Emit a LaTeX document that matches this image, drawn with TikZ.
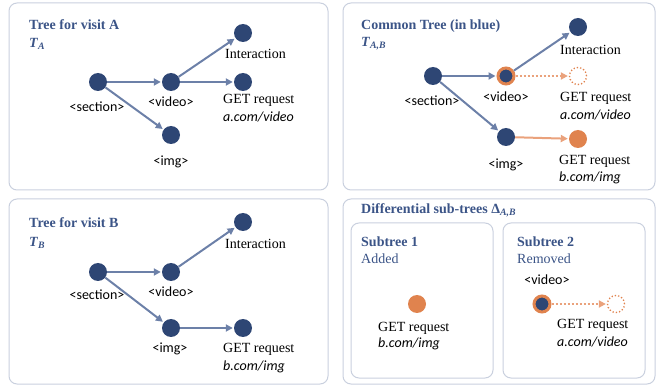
\documentclass[tikz,border=0pt]{standalone}
\usepackage{fontspec}
\setmainfont{Liberation Serif}
\newfontfamily\carl{Carlito}
\usetikzlibrary{arrows.meta}
\definecolor{navy}{HTML}{2E4674}
\definecolor{edgeblue}{HTML}{6C80A8}
\definecolor{orng}{HTML}{E0834E}
\definecolor{lorng}{HTML}{EAA27C}
\definecolor{ttl}{HTML}{3B5487}
\definecolor{frame}{HTML}{C9D0DE}
\tikzset{
  dot/.style={circle, fill=navy, minimum size=18pt, inner sep=0pt},
  odot/.style={circle, fill=orng, minimum size=18pt, inner sep=0pt},
  ringdot/.style={circle, fill=navy, draw=orng, line width=3pt, minimum size=16pt, inner sep=0pt},
  ghost/.style={circle, draw=orng, dotted, line width=1.3pt, minimum size=17pt, inner sep=0pt},
  edge/.style={draw=edgeblue, line width=2pt, -{Triangle[length=7pt,width=7pt]}, shorten >=1pt},
  oedge/.style={draw=lorng, line width=2pt, -{Triangle[length=7pt,width=7pt]}, shorten >=1pt},
  dedge/.style={draw=lorng, line width=2pt, dotted, -{Triangle[length=7pt,width=7pt]}, shorten >=1pt},
  sl/.style={font=\fontsize{14}{16}\selectfont\carl, inner sep=0pt},
  sil/.style={font=\fontsize{14}{16}\selectfont\carl\itshape, inner sep=0pt, anchor=west},
  rl/.style={font=\fontsize{14}{16}\selectfont, inner sep=0pt, anchor=west},
  title/.style={font=\fontsize{14}{16}\selectfont\bfseries, text=ttl, anchor=west, inner sep=0pt},
  subt/.style={font=\fontsize{14}{16}\selectfont, text=ttl, anchor=west, inner sep=0pt},
  panel/.style={draw=frame, line width=1pt, rounded corners=8pt}
}
\begin{document}
\begin{tikzpicture}[x=1pt,y=-1pt]
\useasboundingbox (0,0) rectangle (657,385);
% panels
\draw[panel] (9,3) rectangle (328,190);
\draw[panel] (343,3) rectangle (655,190);
\draw[panel] (9,199) rectangle (328,384);
\draw[panel] (343,199) rectangle (655,384);
\draw[panel] (351,223) rectangle (493,378);
\draw[panel] (503,223) rectangle (645,378);

% ---------- Panel A ----------
\node[title] (tA) at (29,25) {Tree for visit A};
\node[title] (tAs) at (29,44) {\textit{T}\textsubscript{\textit{A}}};
\node[dot] (aS) at (98,82) {};
\node[dot] (aV) at (171,82) {};
\node[dot] (aI) at (243,33) {};
\node[dot] (aG) at (243,82) {};
\node[dot] (aM) at (171,135) {};
\draw[edge] (aS) -- (aV);
\draw[edge] (aS) -- (aM);
\draw[edge] (aV) -- (aI);
\draw[edge] (aV) -- (aG);
\node[sl] (aSl) at (97,107) {<section>};
\node[sl] (aVl) at (171,102) {<video>};
\node[sl] (aMl) at (171,162) {<img>};
\node[rl] (aIl) at (225,54) {Interaction};
\node[rl] (aGl) at (223,100) {GET request};
\node[sil] (aGu) at (223,117) {a.com/video};

% ---------- Common panel ----------
\node[title] (tC) at (361,26) {Common Tree (in blue)};
\node[title] (tCs) at (361,44) {\textit{T}\textsubscript{\textit{A,B}}};
\node[dot] (cS) at (433,76) {};
\node[ringdot] (cV) at (506,76) {};
\node[dot] (cI) at (578,27) {};
\node[ghost] (cG) at (578,76) {};
\node[dot] (cM) at (506,137) {};
\node[odot] (cB) at (578,139) {};
\draw[edge] (cS) -- (cV);
\draw[edge] (cS) -- (cM);
\draw[edge] (cV) -- (cI);
\draw[dedge] (cV) -- (cG);
\draw[oedge] (cM) -- (cB);
\node[sl] (cSl) at (432,101) {<section>};
\node[sl] (cVl) at (506,97) {<video>};
\node[sl] (cMl) at (506,165) {<img>};
\node[rl] (cIl) at (560,50) {Interaction};
\node[rl] (cGl) at (560,98) {GET request};
\node[sil] (cGu) at (560,115) {a.com/video};
\node[rl] (cBl) at (559,161) {GET request};
\node[sil] (cBu) at (559,178) {b.com/img};

% ---------- Panel B ----------
\node[title] (tB) at (29,223) {Tree for visit B};
\node[title] (tBs) at (29,243) {\textit{T}\textsubscript{\textit{B}}};
\node[dot] (bS) at (98,272) {};
\node[dot] (bV) at (171,272) {};
\node[dot] (bI) at (243,222) {};
\node[dot] (bM) at (171,328) {};
\node[dot] (bG) at (243,328) {};
\draw[edge] (bS) -- (bV);
\draw[edge] (bS) -- (bM);
\draw[edge] (bV) -- (bI);
\draw[edge] (bM) -- (bG);
\node[sl] (bSl) at (97,295) {<section>};
\node[sl] (bVl) at (171,292) {<video>};
\node[sl] (bMl) at (170,349) {<img>};
\node[rl] (bIl) at (225,244) {Interaction};
\node[rl] (bGl) at (223,349) {GET request};
\node[sil] (bGu) at (223,367) {b.com/img};

% ---------- Differential panel ----------
\node[title] (tD) at (361,210) {Differential sub-trees Δ\textsubscript{\textit{A,B}}};
\node[title] (s1) at (361,242) {Subtree 1};
\node[subt] (s1a) at (361,259) {Added};
\node[odot] (dB) at (417,304) {};
\node[rl] (dBl) at (378,328) {GET request};
\node[sil] (dBu) at (378,344) {b.com/img};
\node[title] (s2) at (517,242) {Subtree 2};
\node[subt] (s2r) at (517,259) {Removed};
\node[sl] (dVl) at (547,280) {<video>};
\node[ringdot] (dV) at (542,304) {};
\node[ghost] (dG) at (616,304) {};
\draw[dedge] (dV) -- (dG);
\node[rl] (dGl) at (557,325) {GET request};
\node[sil] (dGu) at (557,342) {a.com/video};
\end{tikzpicture}
\end{document}
